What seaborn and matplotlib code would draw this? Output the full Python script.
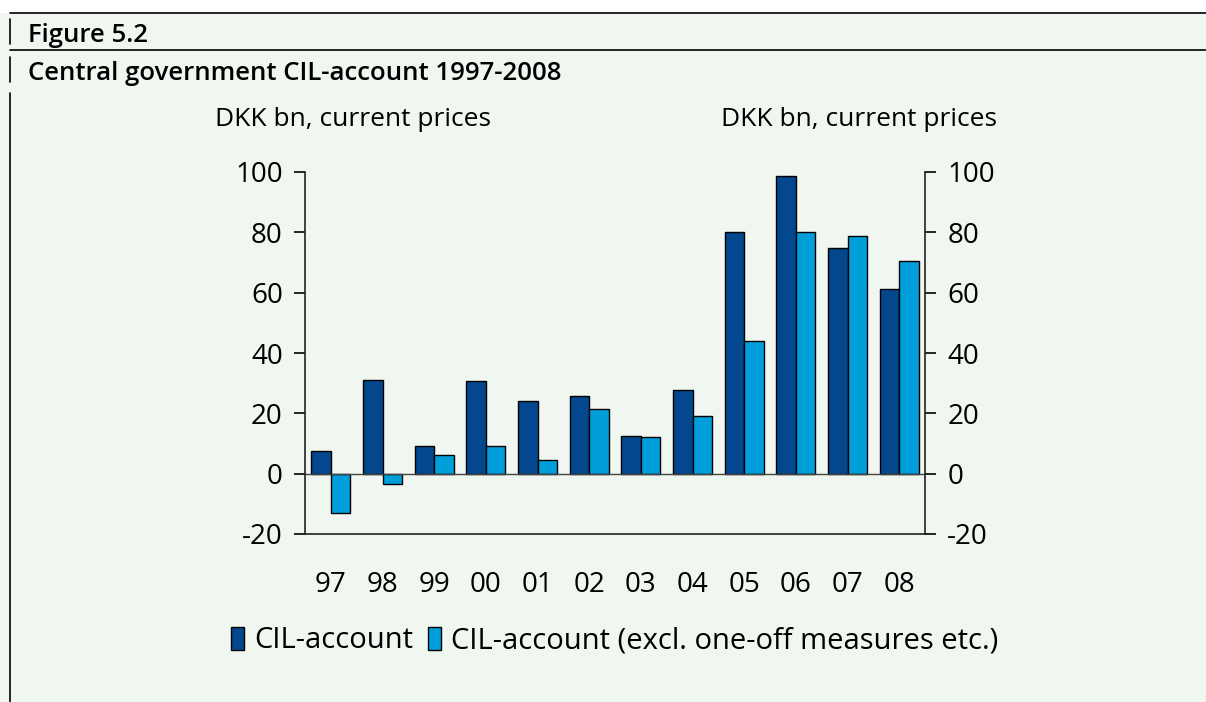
# Central government CIL-account 1997-2008

import pandas as pd
import seaborn as sns
import matplotlib.pyplot as plt
from matplotlib.lines import Line2D

# Data (DKK bn, current prices)
years = ['97', '98', '99', '00', '01', '02', '03', '04', '05', '06', '07', '08']
cil = [7.5, 31.2, 9.2, 30.7, 24.1, 25.7, 12.6, 27.8, 80.2, 98.6, 74.8, 61.2]
cil_excl = [-13.0, -3.3, 6.2, 9.2, 4.5, 21.4, 12.2, 19.2, 43.9, 80.2, 78.9, 70.6]
series = ['CIL-account', 'CIL-account (excl. one-off measures etc.)']
yticks = [-20, 0, 20, 40, 60, 80, 100]

df = pd.DataFrame({
    'year': years * 2,
    'value': cil + cil_excl,
    'series': [series[0]] * len(years) + [series[1]] * len(years),
})

bg = '#f0f6f0'
dark = '#03478f'
light = '#009fdb'

sns.set_style('white')
plt.rcParams['font.family'] = ['Open Sans', 'DejaVu Sans']
plt.rcParams['axes.unicode_minus'] = False
plt.rcParams['text.color'] = 'black'
plt.rcParams['xtick.color'] = 'black'
plt.rcParams['ytick.color'] = 'black'

fig = plt.figure(figsize=(12.06, 7.02), dpi=100, facecolor=bg)

# header frame
fig.patches.append(plt.Rectangle((0, 1 - 13 / 702), 1, 13 / 702, transform=fig.transFigure,
                                 facecolor='white', edgecolor='none'))
fig.lines.append(Line2D([10 / 1206, 1], [1 - 13 / 702] * 2, transform=fig.transFigure, color='black', lw=1.2))
fig.lines.append(Line2D([10 / 1206, 1], [1 - 50 / 702] * 2, transform=fig.transFigure, color='black', lw=1.2))
for y0, y1 in [(19, 44), (57, 82), (93, 702)]:
    fig.lines.append(Line2D([10 / 1206] * 2, [1 - y0 / 702, 1 - y1 / 702], transform=fig.transFigure,
                            color='black', lw=1.2))

fig.text(28 / 1206, 1 - 36 / 702, 'Figure 5.2', fontsize=18.5, fontweight='semibold', va='center')
fig.text(28 / 1206, 1 - 73 / 702, 'Central government CIL-account 1997-2008', fontsize=18.5,
         fontweight='semibold', va='center')

ax = fig.add_axes([305 / 1206, 1 - 534 / 702, 620 / 1206, 362 / 702])
ax.set_facecolor(bg)

sns.barplot(data=df, x='year', y='value', hue='series', palette=[dark, light], width=0.75,
            edgecolor='black', linewidth=1, saturation=1, legend=False, ax=ax)

ax.axhline(0, color='#444444', lw=1, zorder=1)
ax.set_ylim(-20, 100)
ax.set_xlim(-0.5, len(years) - 0.5)
ax.set_yticks(yticks)
ax.set_xlabel('')
ax.set_ylabel('')

for s in ['top', 'right']:
    ax.spines[s].set_visible(False)
for s in ['left', 'bottom']:
    ax.spines[s].set_color('#222222')
    ax.spines[s].set_linewidth(1.2)

ax.tick_params(axis='y', left=True, length=8, width=1.2, direction='out', labelsize=20, pad=8)
ax.tick_params(axis='x', bottom=False, labelsize=20, pad=23)

ax2 = ax.twinx()
ax2.set_ylim(-20, 100)
ax2.set_yticks(yticks)
for s in ['top', 'left', 'bottom']:
    ax2.spines[s].set_visible(False)
ax2.spines['right'].set_color('#222222')
ax2.spines['right'].set_linewidth(1.2)
ax2.tick_params(axis='y', right=True, length=8, width=1.2, direction='out', labelsize=20, pad=8)

fig.text(215 / 1206, 1 - 120 / 702, 'DKK bn, current prices', fontsize=19, va='center', ha='left')
fig.text(997 / 1206, 1 - 120 / 702, 'DKK bn, current prices', fontsize=19, va='center', ha='right')

handles = [plt.Rectangle((0, 0), 1, 1, facecolor=c, edgecolor='black', lw=1) for c in [dark, light]]
fig.legend(handles, series, loc='center', bbox_to_anchor=(615 / 1206, 1 - 641 / 702), ncol=2,
           frameon=False, fontsize=21, handlelength=0.45, handleheight=0.8, handletextpad=0.35,
           columnspacing=0.5, labelcolor='black')

fig.savefig('out.png', dpi=100, facecolor=bg)
